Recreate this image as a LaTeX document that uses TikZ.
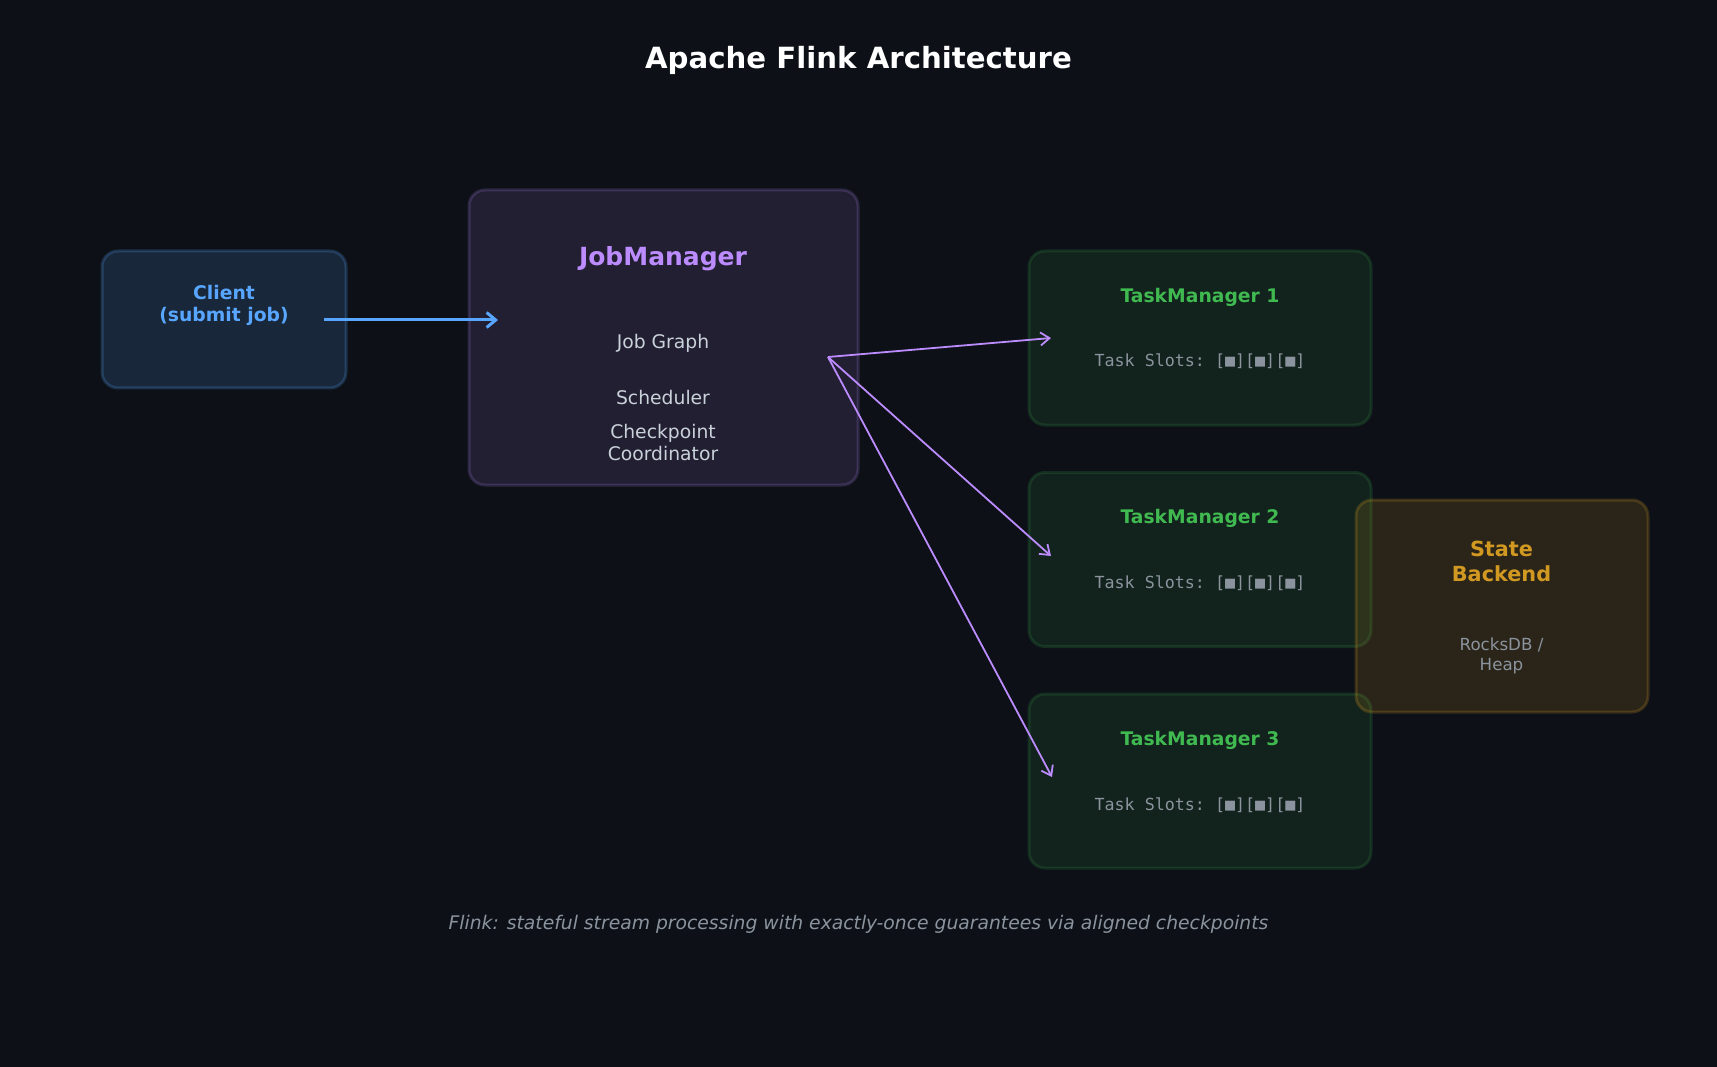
\documentclass[tikz,border=0pt]{standalone}
\usepackage{fontspec}
\setmainfont{DejaVu Sans}
\setmonofont{DejaVu Sans Mono}
\usetikzlibrary{arrows.meta}
\definecolor{bg}{HTML}{0D1117}
\definecolor{cblue}{HTML}{58A6FF}
\definecolor{cpurple}{HTML}{BC8CFF}
\definecolor{cgreen}{HTML}{3FB950}
\definecolor{corange}{HTML}{D29922}
\definecolor{cgrey}{HTML}{8B949E}
\definecolor{clight}{HTML}{C9D1D9}
\tikzset{
  box/.style={rounded corners=16pt, line width=3pt, inner sep=0pt},
  clientbox/.style={box, fill=cblue, fill opacity=0.15, draw=cblue, draw opacity=0.22, minimum width=244pt, minimum height=137pt},
  jmbox/.style={box, fill=cpurple, fill opacity=0.12, draw=cpurple, draw opacity=0.18, minimum width=389pt, minimum height=295pt},
  tmbox/.style={box, fill=cgreen, fill opacity=0.10, draw=cgreen, draw opacity=0.16, minimum width=342pt, minimum height=174pt},
  stbox/.style={box, fill=corange, fill opacity=0.15, draw=corange, draw opacity=0.22, minimum width=292pt, minimum height=212pt},
  txt/.style={inner sep=0pt, align=center},
  bodytxt/.style={txt, text=clight, font=\fontsize{18.75}{22.5}\selectfont},
  tmtitle/.style={txt, text=cgreen, font=\fontsize{18.75}{22.5}\selectfont\bfseries},
  slots/.style={txt, text=cgrey, font=\fontsize{16.67}{20}\selectfont\ttfamily},
  bluearrow/.style={draw=cblue, line width=3pt, -{Straight Barb[length=9pt,width=15pt,line width=3pt]}},
  purplearrow/.style={draw=cpurple, line width=1.8pt, -{Straight Barb[length=9pt,width=13pt,line width=1.8pt]}},
}
\begin{document}
\begin{tikzpicture}[x=1pt,y=-1pt]
\fill[bg] (0,0) rectangle (1717,1067);
\useasboundingbox (0,0) rectangle (1717,1067);

\node[txt, text=white, font=\fontsize{29.2}{35}\selectfont\bfseries] (title) at (858.5,60) {Apache Flink Architecture};

% boxes
\node[clientbox] (client) at (224,319.5) {};
\node[jmbox] (jm) at (663.5,337.5) {};
\node[tmbox] (tm1) at (1200,338) {};
\node[tmbox] (tm2) at (1200,559.5) {};
\node[tmbox] (tm3) at (1200,781) {};
\node[stbox] (state) at (1502,606) {};

% texts
\node[txt, text=cblue, font=\fontsize{18.75}{22.5}\selectfont\bfseries] (clienttxt) at (224,305.5) {Client\\(submit job)};
\node[txt, text=cpurple, font=\fontsize{25}{30}\selectfont\bfseries] (jmtitle) at (663,259) {JobManager};
\node[bodytxt] (jg) at (663,343.5) {Job Graph};
\node[bodytxt] (sched) at (663,397.5) {Scheduler};
\node[bodytxt] (ckpt) at (663,442.5) {Checkpoint\\Coordinator};

\node[tmtitle] (tm1t) at (1200,297.5) {TaskManager 1};
\node[slots] (tm1s) at (1200,361) {Task Slots: [■][■][■]};
\node[tmtitle] (tm2t) at (1200,518.5) {TaskManager 2};
\node[slots] (tm2s) at (1200,583) {Task Slots: [■][■][■]};
\node[tmtitle] (tm3t) at (1200,740.5) {TaskManager 3};
\node[slots] (tm3s) at (1200,805) {Task Slots: [■][■][■]};

\node[txt, text=corange, font=\fontsize{20.8}{25}\selectfont\bfseries] (sttitle) at (1501.5,561.5) {State\\Backend};
\node[txt, text=cgrey, font=\fontsize{16.67}{20}\selectfont] (stbody) at (1501.5,656) {RocksDB /\\Heap};

\node[txt, text=cgrey, font=\fontsize{18.75}{22.5}\selectfont\itshape] (footer) at (858.5,924) {Flink: stateful stream processing with exactly-once guarantees via aligned checkpoints};

% connector end points
\coordinate (cs) at (324,320);
\coordinate (ce) at (498,320);
\coordinate (js) at (828,357);
\coordinate (t1) at (1051,338);
\coordinate (t2) at (1051,556);
\coordinate (t3) at (1052,777);

\draw[bluearrow] (cs) -- (ce);
\draw[purplearrow] (js) -- (t1);
\draw[purplearrow] (js) -- (t2);
\draw[purplearrow] (js) -- (t3);
\end{tikzpicture}
\end{document}
